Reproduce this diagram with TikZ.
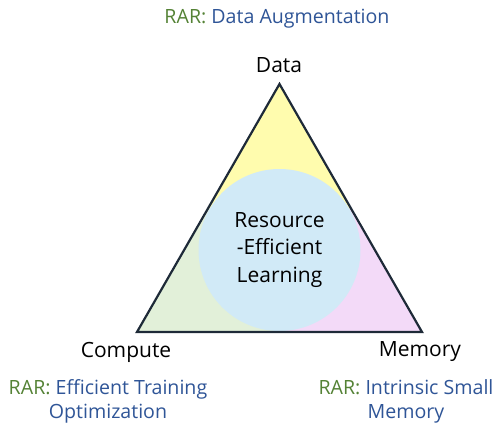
\documentclass[tikz,border=0pt]{standalone}
\usepackage{fontspec}
\setmainfont{Open Sans}
\usetikzlibrary{calc}
\definecolor{rargreen}{HTML}{548235}
\definecolor{rarblue}{HTML}{2F5597}
\definecolor{zoneY}{HTML}{FFFCAE}
\definecolor{zoneG}{HTML}{E2F0D9}
\definecolor{zoneP}{HTML}{F3DAF8}
\definecolor{coreblue}{HTML}{D1EAF7}
\definecolor{edgeink}{HTML}{1E2A38}
\tikzset{
  vertexlabel/.style={font=\fontsize{21}{25}\selectfont, text=black, inner sep=0pt},
  rarlabel/.style={font=\fontsize{19.6}{24}\selectfont, text=rarblue, align=center, inner sep=0pt},
  corelabel/.style={circle, fill=coreblue, minimum size=162pt, inner sep=0pt, align=center,
    font=\fontsize{21}{27.5}\selectfont},
  outline/.style={draw=edgeink, line width=2.2pt, line join=miter},
}
\newcommand{\rar}{\textcolor{rargreen}{RAR:}\ }
\begin{document}
\begin{tikzpicture}[x=1pt, y=-1pt]
\useasboundingbox (0,0) rectangle (496,423);
% corners of the triangle and mid-points of its sides
\coordinate (top) at (279.5,84);
\coordinate (bl) at (137,332);
\coordinate (br) at (422,332);
\coordinate (ctr) at (279.5,250);
\coordinate (mL) at ($(top)!0.5!(bl)$);
\coordinate (mR) at ($(top)!0.5!(br)$);
\coordinate (mB) at ($(bl)!0.5!(br)$);
% three coloured zones
\fill[zoneY] (top) -- (mR) -- (ctr) -- (mL) -- cycle;
\fill[zoneG] (bl) -- (mL) -- (ctr) -- (mB) -- cycle;
\fill[zoneP] (br) -- (mB) -- (ctr) -- (mR) -- cycle;
% central circle
\node[corelabel] (core) at (ctr) {Resource\\-Efficient\\Learning};
% triangle outline
\draw[outline] (top) -- (br) -- (bl) -- cycle;
% vertex labels
\node[vertexlabel] (data) at (279,65) {Data};
\node[vertexlabel] (compute) at (126,352) {Compute};
\node[vertexlabel] (memory) at (420,352) {Memory};
% strategy labels
\node[rarlabel] (aug) at (277,19) {\rar Data Augmentation};
\node[rarlabel] (train) at (108,401) {\rar Efficient Training\\Optimization};
\node[rarlabel] (smallmem) at (406,401) {\rar Intrinsic Small\\Memory};
\end{tikzpicture}
\end{document}
